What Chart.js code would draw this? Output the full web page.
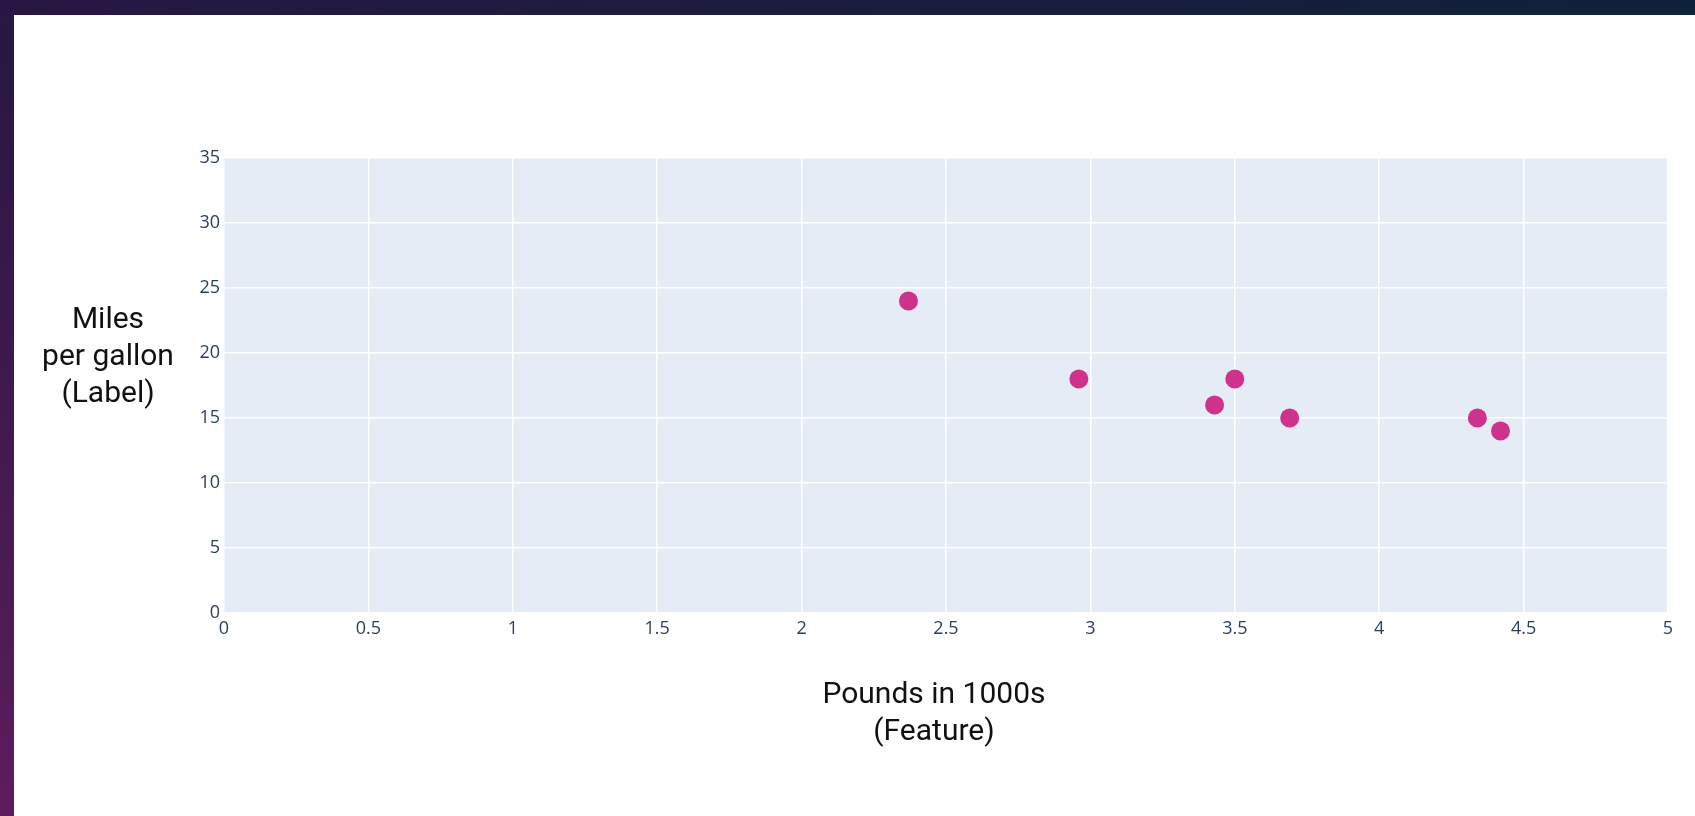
<!DOCTYPE html>
<html>
<head>
<meta charset="utf-8">
<script src="https://cdn.jsdelivr.net/npm/chart.js@4"></script>
<style>
  html, body { margin: 0; padding: 0; }
  body {
    width: 1695px; height: 816px; overflow: hidden;
    background: linear-gradient(to top right, #5e1c5e 0%, #2a1744 45%, #0e2238 100%);
  }
  #panel {
    position: absolute; left: 14px; top: 15px;
    width: 1681px; height: 801px; background: #fff;
  }
</style>
</head>
<body>
<div id="panel"><canvas id="mpgChart" width="1681" height="801"></canvas></div>
<script>
// データ
const weights = [2.37, 2.96, 3.43, 3.50, 3.69, 4.34, 4.42];
const mpg = [24, 18, 16, 18, 15, 15, 14];
const xTitle = ['Pounds in 1000s', '(Feature)'];
const yTitle = ['Miles', 'per gallon', '(Label)'];

const points = weights.map((w, i) => ({ x: w, y: mpg[i] }));

const tickColor = '#2a3f5f';
const tickFont = { family: 'Open Sans', size: 18 };

// プロット背景と軸タイトル
const plotBg = {
  id: 'plotBg',
  beforeDraw(chart) {
    const { ctx, chartArea: a } = chart;
    ctx.save();
    ctx.fillStyle = '#e5ecf6';
    ctx.fillRect(a.left, a.top, a.right - a.left, a.bottom - a.top);
    ctx.restore();
  },
  afterDraw(chart) {
    const { ctx } = chart;
    ctx.save();
    ctx.fillStyle = '#111';
    ctx.font = '30px Roboto';
    ctx.textAlign = 'center';
    ctx.textBaseline = 'middle';
    yTitle.forEach((t, i) => ctx.fillText(t, 94, 305 + i * 37));
    xTitle.forEach((t, i) => ctx.fillText(t, 920, 680 + i * 37));
    ctx.restore();
  }
};

const ctx = document.getElementById('mpgChart').getContext('2d');
const mpgChart = new Chart(ctx, {
  type: 'scatter',
  data: {
    datasets: [{
      label: 'mpg',
      data: points,
      backgroundColor: '#cf328c',
      borderWidth: 0,
      pointRadius: 9.5,
      pointHoverRadius: 9.5
    }]
  },
  options: {
    responsive: false,
    animation: false,
    layout: { padding: { left: 0, top: 143, right: 27, bottom: 0 } },
    plugins: { legend: { display: false }, tooltip: { enabled: false } },
    scales: {
      x: {
        type: 'linear',
        min: 0, max: 5,
        border: { display: false },
        grid: { color: '#ffffff', lineWidth: 1.5, drawTicks: false },
        ticks: {
          stepSize: 0.5, color: tickColor, font: tickFont, padding: 5, maxRotation: 0,
          callback: v => String(v)
        },
        afterFit(scale) { scale.height = 203; }
      },
      y: {
        min: 0, max: 35,
        border: { display: false },
        grid: { color: '#ffffff', lineWidth: 1.5, drawTicks: false },
        ticks: { stepSize: 5, color: tickColor, font: tickFont, padding: 4 },
        afterFit(scale) { scale.width = 210; }
      }
    }
  },
  plugins: [plotBg]
});
</script>
</body>
</html>
